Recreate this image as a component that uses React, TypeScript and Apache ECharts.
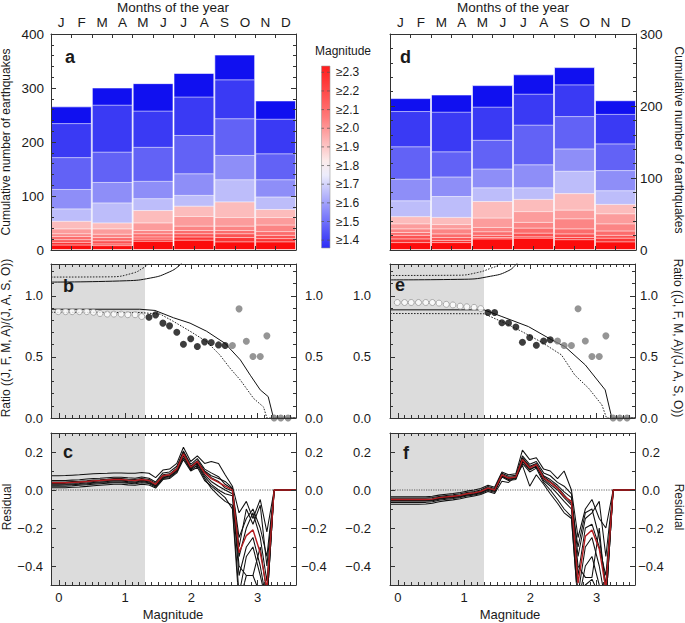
import React, { useEffect, useRef } from 'react';
import * as echarts from 'echarts';

// ---------- categories / labels ----------
const monthNames = ['Jan', 'Feb', 'Mar', 'Apr', 'May', 'Jun', 'Jul', 'Aug', 'Sep', 'Oct', 'Nov', 'Dec'];
const monthInitials = ['J', 'F', 'M', 'A', 'M', 'J', 'J', 'A', 'S', 'O', 'N', 'D'];
const periods = ['Jan–Feb', 'Mar–Apr', 'May–Jun', 'Jul–Aug', 'Sep–Oct', 'Nov–Dec'];
const layerMagnitudes = [1.4, 1.5, 1.6, 1.7, 1.8, 1.9, 2.0, 2.1, 2.2, 2.3, 2.4, 2.5];
const colorbarLabels = ['≥2.3', '≥2.2', '≥2.1', '≥2.0', '≥1.9', '≥1.8', '≥1.7', '≥1.6', '≥1.5', '≥1.4'];
const magTickLabels = [0, 1, 2, 3];
const ratioTickLabels = [0, 0.5, 1.0];
const residualTickLabels = [-0.4, -0.2, 0, 0.2];

// ---------- panel a: cumulative counts (one value per magnitude threshold) ----------
const aJF = [266, 235, 172, 113, 77, 54, 40, 31, 26, 20, 15, 10];
const aMA = [301, 269, 182, 126, 88, 51, 40, 30, 24, 18, 12, 9];
const aMJ = [309, 258, 191, 128, 96, 74, 51, 37, 31, 25, 21, 17];
const aJA = [328, 284, 213, 142, 102, 82, 63, 45, 37, 31, 25, 19];
const aSO = [362, 316, 244, 176, 131, 90, 61, 45, 37, 31, 24, 16];
const aND = [277, 243, 179, 131, 99, 76, 61, 47, 35, 28, 22, 16];

// ---------- panel d ----------
const dJF = [211, 193, 144, 99, 69, 47, 37, 30, 25, 21, 16, 11];
const dMA = [216, 192, 137, 102, 75, 46, 36, 30, 23, 18, 14, 11];
const dMJ = [229, 199, 153, 113, 87, 68, 45, 32, 26, 21, 18, 16];
const dJA = [244, 217, 174, 119, 87, 71, 54, 39, 31, 24, 19, 17];
const dSO = [254, 230, 186, 141, 110, 79, 56, 44, 30, 23, 18, 15];
const dND = [208, 189, 148, 111, 83, 64, 51, 37, 27, 21, 17, 12];

// ---------- magnitude bins (x of points / residual curves) ----------
const magX = [-0.01, 0.10, 0.20, 0.31, 0.42, 0.52, 0.62, 0.73, 0.83, 0.94, 1.04, 1.15, 1.25,
  1.36, 1.46, 1.57, 1.67, 1.78, 1.88, 1.99, 2.09, 2.20, 2.30, 2.41, 2.51, 2.62, 2.72, 2.83,
  2.93, 3.04, 3.14, 3.25, 3.35, 3.46];
const shadeMax = 1.3;

// ---------- panel b ratios ----------
const bOpen = [0.87, 0.87, 0.87, 0.87, 0.87, 0.865, 0.855, 0.85, 0.85, 0.85, 0.845, 0.845, 0.83];
const bFilled = [0.825, 0.844, 0.776, 0.754, 0.702, 0.604, 0.648, 0.585, 0.623, 0.617, 0.598, 0.593];
const bGrey = [0.593, 0.893, 0.628, 0.503, 0.503, 0.672, 0, 0, 0];
const bLowSolidX = [-0.12, 1.22, 1.45, 1.73, 1.98, 2.23, 2.51, 2.74, 2.89, 3.04, 3.16, 3.24, 3.58];
const bLowSolidY = [0.89, 0.89, 0.88, 0.82, 0.776, 0.71, 0.61, 0.475, 0.35, 0.23, 0.175, 0, 0];
const bLowDotX = [-0.12, 1.22, 1.53, 1.73, 1.98, 2.23, 2.43, 2.58, 2.74, 2.94, 3.09, 3.14, 3.58];
const bLowDotY = [0.865, 0.863, 0.85, 0.79, 0.71, 0.625, 0.516, 0.41, 0.31, 0.16, 0.09, 0, 0];
const bUpSolidX = [-0.12, 1.02, 1.38, 1.63, 1.83, 1.95];
const bUpSolidY = [1.112, 1.123, 1.145, 1.186, 1.254, 1.34];
const bUpDotX = [-0.12, 0.77, 1.12, 1.27, 1.35, 1.45];
const bUpDotY = [1.153, 1.155, 1.186, 1.227, 1.26, 1.34];

// ---------- panel e ratios ----------
const eOpen = [0.945, 0.945, 0.945, 0.945, 0.945, 0.945, 0.94, 0.93, 0.925, 0.915, 0.91, 0.905, 0.895];
const eFilled = [0.863, 0.863, 0.78, 0.777, 0.744, 0.62, 0.658, 0.595, 0.63, 0.64];
const eGrey = [0.63, 0.593, 0.593, 0.894, 0.63, 0.503, 0.503, 0.672, 0, 0, 0];
const eLowSolidX = [-0.12, 1.30, 1.57, 1.97, 2.32, 2.52, 2.83, 3.13, 3.23, 3.58];
const eLowSolidY = [0.885, 0.885, 0.83, 0.748, 0.64, 0.585, 0.434, 0.23, 0, 0];
const eLowDotX = [-0.12, 1.30, 1.62, 1.87, 2.17, 2.47, 2.67, 2.88, 3.08, 3.15, 3.58];
const eLowDotY = [0.855, 0.853, 0.776, 0.708, 0.62, 0.516, 0.352, 0.243, 0.107, 0, 0];
const eUpSolidX = [-0.12, 1.0, 1.4, 1.65, 1.79, 1.9];
const eUpSolidY = [1.13, 1.135, 1.16, 1.2, 1.26, 1.34];
const eUpDotX = [-0.12, 0.9, 1.2, 1.4, 1.54, 1.62];
const eUpDotY = [1.166, 1.168, 1.19, 1.225, 1.26, 1.32];

// ---------- panel c residuals ----------
const cMean = [0.038, 0.038, 0.040, 0.042, 0.045, 0.048, 0.050, 0.053, 0.055, 0.055, 0.052, 0.050, 0.055, 0.050, 0.030, 0.075, 0.080, 0.110, 0.190, 0.120, 0.150, 0.090, 0.060, 0.040, 0.020, 0.000, -0.330, -0.240, -0.210, -0.330, -0.520, 0, 0, 0];
const cRes1 = [0.075, 0.076, 0.078, 0.080, 0.083, 0.085, 0.087, 0.088, 0.090, 0.090, 0.088, 0.088, 0.092, 0.088, 0.065, 0.105, 0.110, 0.140, 0.225, 0.150, 0.180, 0.140, 0.150, 0.140, 0.080, 0.020, -0.120, -0.060, -0.150, -0.050, -0.220, 0, 0, 0];
const cRes2 = [0.050, 0.050, 0.052, 0.054, 0.058, 0.060, 0.062, 0.065, 0.067, 0.067, 0.064, 0.062, 0.068, 0.062, 0.042, 0.090, 0.095, 0.125, 0.205, 0.135, 0.165, 0.110, 0.090, 0.070, 0.030, 0.005, -0.250, -0.150, -0.100, -0.200, -0.350, 0, 0, 0];
const cRes3 = [0.030, 0.030, 0.032, 0.034, 0.037, 0.040, 0.042, 0.045, 0.047, 0.047, 0.044, 0.042, 0.047, 0.043, 0.022, 0.068, 0.072, 0.100, 0.180, 0.110, 0.140, 0.070, 0.030, 0.000, -0.020, -0.030, -0.450, -0.300, -0.250, -0.400, -0.600, 0, 0, 0];
const cRes4 = [0.020, 0.020, 0.022, 0.025, 0.028, 0.030, 0.033, 0.036, 0.038, 0.038, 0.035, 0.033, 0.038, 0.034, 0.015, 0.060, 0.065, 0.095, 0.170, 0.105, 0.130, 0.060, 0.010, -0.030, -0.060, -0.080, -0.550, -0.350, -0.300, -0.450, -0.600, 0, 0, 0];
const cRes5 = [0.012, 0.012, 0.014, 0.016, 0.019, 0.022, 0.025, 0.028, 0.030, 0.030, 0.027, 0.025, 0.030, 0.026, 0.010, 0.055, 0.060, 0.090, 0.160, 0.100, 0.120, 0.050, 0.020, -0.010, -0.040, -0.100, -0.600, -0.450, -0.450, -0.550, -0.600, 0, 0, 0];
const cRes6 = [0.042, 0.042, 0.044, 0.046, 0.049, 0.052, 0.054, 0.057, 0.060, 0.060, 0.057, 0.055, 0.060, 0.055, 0.035, 0.080, 0.085, 0.115, 0.195, 0.125, 0.155, 0.100, 0.075, 0.060, 0.045, 0.010, -0.300, -0.100, -0.180, -0.080, -0.400, 0, 0, 0];
const cRes7 = [0.025, 0.026, 0.028, 0.030, 0.033, 0.036, 0.038, 0.040, 0.042, 0.042, 0.040, 0.038, 0.043, 0.038, 0.020, 0.065, 0.070, 0.105, 0.185, 0.115, 0.145, 0.080, 0.045, 0.020, 0.000, -0.020, -0.400, -0.450, -0.450, -0.300, -0.550, 0, 0, 0];
const cRes8 = [0.035, 0.035, 0.037, 0.039, 0.042, 0.045, 0.047, 0.050, 0.052, 0.052, 0.049, 0.047, 0.052, 0.047, 0.028, 0.072, 0.078, 0.108, 0.200, 0.118, 0.150, 0.095, 0.065, 0.045, 0.010, -0.005, -0.350, -0.200, -0.120, -0.250, -0.480, 0, 0, 0];

// ---------- panel f residuals ----------
const fMean = [-0.050, -0.050, -0.050, -0.050, -0.050, -0.048, -0.040, -0.036, -0.033, -0.028, -0.020, -0.015, -0.007, 0.010, 0.000, 0.080, 0.063, 0.068, 0.160, 0.116, 0.133, 0.063, 0.040, 0.010, -0.033, -0.060, -0.490, -0.244, -0.210, -0.310, -0.520, 0, 0, 0];
const fRes1 = [-0.035, -0.035, -0.035, -0.035, -0.035, -0.033, -0.027, -0.022, -0.018, -0.013, -0.006, 0.000, 0.008, 0.025, 0.015, 0.095, 0.080, 0.085, 0.210, 0.160, 0.170, 0.110, 0.100, 0.060, 0.100, 0.000, -0.250, -0.100, -0.050, -0.150, -0.200, 0, 0, 0];
const fRes2 = [-0.042, -0.042, -0.042, -0.042, -0.042, -0.040, -0.034, -0.029, -0.025, -0.020, -0.013, -0.008, 0.000, 0.018, 0.008, 0.088, 0.072, 0.077, 0.180, 0.135, 0.150, 0.090, 0.075, 0.040, 0.020, -0.020, -0.350, -0.150, -0.120, -0.060, -0.350, 0, 0, 0];
const fRes3 = [-0.055, -0.055, -0.055, -0.055, -0.055, -0.053, -0.045, -0.041, -0.038, -0.033, -0.025, -0.020, -0.012, 0.005, -0.005, 0.075, 0.058, 0.063, 0.150, 0.105, 0.125, 0.050, 0.020, -0.020, -0.060, -0.100, -0.550, -0.300, -0.250, -0.400, -0.600, 0, 0, 0];
const fRes4 = [-0.065, -0.065, -0.065, -0.065, -0.065, -0.062, -0.054, -0.049, -0.045, -0.040, -0.032, -0.026, -0.018, -0.002, -0.012, 0.068, 0.050, 0.055, 0.140, 0.095, 0.115, 0.040, 0.000, -0.050, -0.100, -0.140, -0.600, -0.400, -0.350, -0.500, -0.600, 0, 0, 0];
const fRes5 = [-0.075, -0.075, -0.075, -0.075, -0.074, -0.070, -0.062, -0.056, -0.052, -0.046, -0.038, -0.032, -0.024, -0.008, -0.018, 0.046, 0.040, 0.070, 0.130, 0.020, 0.080, 0.030, -0.020, -0.070, -0.120, -0.150, -0.600, -0.500, -0.470, -0.550, -0.600, 0, 0, 0];
const fRes6 = [-0.048, -0.048, -0.048, -0.048, -0.048, -0.046, -0.038, -0.034, -0.031, -0.026, -0.018, -0.013, -0.005, 0.012, 0.002, 0.082, 0.066, 0.071, 0.170, 0.125, 0.140, 0.075, 0.055, 0.025, -0.010, -0.040, -0.450, -0.200, -0.180, -0.300, -0.450, 0, 0, 0];
const fRes7 = [-0.058, -0.058, -0.058, -0.058, -0.058, -0.056, -0.048, -0.043, -0.040, -0.035, -0.027, -0.022, -0.014, 0.003, -0.007, 0.072, 0.055, 0.060, 0.155, 0.110, 0.125, 0.060, 0.030, 0.000, -0.040, -0.080, -0.400, -0.460, -0.460, -0.200, -0.550, 0, 0, 0];
const fRes8 = [-0.052, -0.052, -0.052, -0.052, -0.052, -0.050, -0.042, -0.038, -0.035, -0.030, -0.022, -0.017, -0.009, 0.008, -0.002, 0.078, 0.060, 0.066, 0.165, 0.120, 0.135, 0.070, 0.045, 0.015, -0.025, -0.070, -0.300, -0.120, -0.100, -0.250, -0.500, 0, 0, 0];

// ---------- styles ----------
const FONT = '"Liberation Sans", Arial, Helvetica, sans-serif';
const TEXT = '#1a1a1a';
const FRAME = '#333333';
const layerColors = ['#1010f0', '#3a3af4', '#6262f6', '#8e8ef8', '#bdbdfa', '#fcbcbc', '#fc9c9c', '#fc8585', '#fc6c6c', '#fc5252', '#fc3434', '#fc0c0c'];
const xMin = -0.12;
const xMax = 3.58;

function pairs(xs: number[], ys: number[]) {
  return xs.map((x, i) => [x, ys[i]]);
}
function resLine(ys: number[]) {
  return [[xMin, ys[0]], ...pairs(magX, ys), [xMax, ys[ys.length - 1]]];
}
function minorValues(from: number, to: number, step: number, skipEvery: number) {
  const out: number[] = [];
  const n = Math.round((to - from) / step);
  for (let k = 0; k <= n; k++) {
    if (k % skipEvery !== 0) out.push(+(from + k * step).toFixed(3));
  }
  return out;
}

function buildOption() {
  const grids = [
    { left: 51, top: 34, width: 245, height: 216 },
    { left: 390, top: 34, width: 246, height: 216 },
    { left: 51, top: 264, width: 245, height: 154 },
    { left: 390, top: 264, width: 245, height: 154 },
    { left: 51, top: 433, width: 245, height: 152 },
    { left: 390, top: 433, width: 245, height: 152 },
  ];
  const xAxis: any[] = [];
  const yAxis: any[] = [];
  const series: any[] = [];
  const ls = { color: FRAME, width: 1 };
  const lab = { fontFamily: FONT, fontSize: 13, color: TEXT };

  // ---- top panels (bars) ----
  const tops = [
    { g: 0, data: [aJF, aMA, aMJ, aJA, aSO, aND], max: 400, left: true },
    { g: 1, data: [dJF, dMA, dMJ, dJA, dSO, dND], max: 300, left: false },
  ];
  tops.forEach((p) => {
    const bx = xAxis.push({ type: 'category', gridIndex: p.g, data: periods, show: false }) - 1;
    ['top', 'bottom'].forEach((pos) => {
      xAxis.push({
        type: 'category', gridIndex: p.g, position: pos, data: monthNames, boundaryGap: true, z: 10,
        axisLine: { show: true, onZero: false, lineStyle: ls },
        axisTick: { show: true, inside: true, length: 4, interval: 0, lineStyle: ls },
        axisLabel: { ...lab, fontSize: 13.5, show: pos === 'top', interval: 0, margin: 5, formatter: (_v: string, i: number) => monthInitials[i] },
        splitLine: { show: false },
      });
    });
    let yl = -1;
    ['left', 'right'].forEach((pos) => {
      const idx = yAxis.push({
        type: 'value', gridIndex: p.g, position: pos, min: 0, max: p.max, interval: 100, z: 10,
        axisLine: { show: true, onZero: false, lineStyle: ls },
        axisTick: { show: true, inside: true, length: 5, lineStyle: ls },
        minorTick: { show: true, splitNumber: 5, length: 3, lineStyle: ls },
        splitLine: { show: false }, minorSplitLine: { show: false },
        axisLabel: { ...lab, fontSize: 13.5, show: pos === 'left' ? p.left : !p.left, margin: pos === 'left' ? 7 : 4 },
      }) - 1;
      if (pos === 'left') yl = idx;
    });
    layerMagnitudes.forEach((m, i) => {
      series.push({
        type: 'bar', name: '≥' + m.toFixed(1), xAxisIndex: bx, yAxisIndex: yl, silent: true,
        data: p.data.map((arr) => arr[i]), barWidth: '100%', barGap: '-100%',
        itemStyle: { color: layerColors[i], borderColor: 'rgba(255,255,255,0.6)', borderWidth: 1 },
      });
    });
  });

  // ---- magnitude panels ----
  const magMinor = minorValues(0, 3.5, 0.1, 10);
  function addMagX(g: number, labels: boolean) {
    let main = -1;
    ['bottom', 'top'].forEach((pos) => {
      const i = xAxis.push({
        type: 'value', gridIndex: g, position: pos, min: xMin, max: xMax, z: 10,
        axisLine: { show: true, onZero: false, lineStyle: ls },
        axisTick: { show: true, inside: true, length: 5, lineStyle: ls, customValues: magTickLabels },
        axisLabel: { ...lab, show: labels && pos === 'bottom', margin: 6, customValues: magTickLabels },
        splitLine: { show: false },
      }) - 1;
      if (pos === 'bottom') main = i;
      xAxis.push({
        type: 'value', gridIndex: g, position: pos, min: xMin, max: xMax, z: 10,
        axisLine: { show: false, onZero: false },
        axisTick: { show: true, inside: true, length: 3, lineStyle: ls, customValues: magMinor },
        axisLabel: { show: false, customValues: magMinor },
        splitLine: { show: false },
      });
    });
    return main;
  }
  function addY(g: number, min: number, max: number, major: number[], minor: number[],
    fmt: (v: number) => string, leftMargin: number, rightMargin: number) {
    let main = -1;
    ['left', 'right'].forEach((pos) => {
      const i = yAxis.push({
        type: 'value', gridIndex: g, position: pos, min, max, z: 10,
        axisLine: { show: true, onZero: false, lineStyle: ls },
        axisTick: { show: true, inside: true, length: 5, lineStyle: ls, customValues: major },
        axisLabel: {
          ...lab, show: true, customValues: major, formatter: fmt,
          margin: pos === 'left' ? leftMargin : rightMargin, align: pos === 'left' ? 'right' : 'center',
        },
        splitLine: { show: false },
      }) - 1;
      if (pos === 'left') main = i;
      yAxis.push({
        type: 'value', gridIndex: g, position: pos, min, max, z: 10,
        axisLine: { show: false, onZero: false },
        axisTick: { show: true, inside: true, length: 3, lineStyle: ls, customValues: minor },
        axisLabel: { show: false, customValues: minor },
        splitLine: { show: false },
      });
    });
    return main;
  }
  const fmtRatio = (v: number) => v.toFixed(1);
  const fmtRes = (v: number) => (v < -1e-9 ? '−' + Math.abs(v).toFixed(1) : Math.abs(v).toFixed(1));
  const ratioMinor = [0.1, 0.2, 0.3, 0.4, 0.6, 0.7, 0.8, 0.9, 1.1, 1.2];
  const resMinor = [-0.3, -0.1, 0.1];

  const shade = (xi: number, yi: number, y: number) => ({
    type: 'line', xAxisIndex: xi, yAxisIndex: yi, silent: true, symbol: 'none', z: 1,
    data: [[xMin, y], [shadeMax, y]], lineStyle: { opacity: 0 },
    markArea: { silent: true, itemStyle: { color: '#dcdcdc' }, data: [[{ xAxis: xMin }, { xAxis: shadeMax }]] },
  });
  const curve = (xi: number, yi: number, data: number[][], dotted: boolean, smooth = false) => ({
    type: 'line', xAxisIndex: xi, yAxisIndex: yi, silent: true, symbol: 'none', z: 3, smooth,
    data, lineStyle: dotted ? { color: '#111', width: 0.9, type: [1.6, 1.4] } : { color: '#111', width: 1 },
  });
  const pts = (xi: number, yi: number, data: number[][], kind: string) => ({
    type: 'scatter', xAxisIndex: xi, yAxisIndex: yi, silent: true, z: 4,
    symbol: 'circle', symbolSize: kind === 'open' ? 6 : 7, data,
    itemStyle: kind === 'open' ? { color: '#ffffff', borderColor: '#9a9a9a', borderWidth: 1 }
      : kind === 'filled' ? { color: '#0d0d0d' } : { color: '#7a7a7a' },
  });

  const ratioPanels = [
    { g: 2, open: bOpen, filled: bFilled, grey: bGrey, ls: [bLowSolidX, bLowSolidY], ld: [bLowDotX, bLowDotY], us: [bUpSolidX, bUpSolidY], ud: [bUpDotX, bUpDotY], lm: 8, rm: 18 },
    { g: 3, open: eOpen, filled: eFilled, grey: eGrey, ls: [eLowSolidX, eLowSolidY], ld: [eLowDotX, eLowDotY], us: [eUpSolidX, eUpSolidY], ud: [eUpDotX, eUpDotY], lm: 19, rm: 14 },
  ];
  ratioPanels.forEach((p) => {
    const xi = addMagX(p.g, false);
    const yi = addY(p.g, 0, 1.26, ratioTickLabels, ratioMinor, fmtRatio, p.lm, p.rm);
    series.push(shade(xi, yi, 0.5));
    series.push(curve(xi, yi, pairs(p.ls[0], p.ls[1]), false));
    series.push(curve(xi, yi, pairs(p.ld[0], p.ld[1]), true));
    series.push(curve(xi, yi, pairs(p.us[0], p.us[1]), false, true));
    series.push(curve(xi, yi, pairs(p.ud[0], p.ud[1]), true, true));
    const n1 = p.open.length;
    const n2 = n1 + p.filled.length;
    series.push(pts(xi, yi, pairs(magX.slice(0, n1), p.open), 'open'));
    series.push(pts(xi, yi, pairs(magX.slice(n1, n2), p.filled), 'filled'));
    series.push(pts(xi, yi, pairs(magX.slice(n2), p.grey), 'grey'));
  });

  const resPanels = [
    { g: 4, mean: cMean, lines: [cRes1, cRes2, cRes3, cRes4, cRes5, cRes6, cRes7, cRes8], lm: 8, rm: 18 },
    { g: 5, mean: fMean, lines: [fRes1, fRes2, fRes3, fRes4, fRes5, fRes6, fRes7, fRes8], lm: 19, rm: 16 },
  ];
  resPanels.forEach((p) => {
    const xi = addMagX(p.g, true);
    const yi = addY(p.g, -0.5, 0.3, residualTickLabels, resMinor, fmtRes, p.lm, p.rm);
    series.push(shade(xi, yi, 0));
    series.push({
      type: 'line', xAxisIndex: xi, yAxisIndex: yi, silent: true, symbol: 'none', z: 2,
      data: [[xMin, 0], [xMax, 0]], lineStyle: { color: '#222', width: 0.7, type: [1.2, 1.2] },
    });
    p.lines.forEach((l) => {
      series.push({
        type: 'line', xAxisIndex: xi, yAxisIndex: yi, silent: true, symbol: 'none', z: 3,
        data: resLine(l), lineStyle: { color: '#111', width: 1.05 },
      });
    });
    series.push({
      type: 'line', xAxisIndex: xi, yAxisIndex: yi, silent: true, symbol: 'none', z: 4,
      data: resLine(p.mean), lineStyle: { color: '#b41c20', width: 1.4 },
    });
  });

  // ---- texts & colorbar ----
  const txt = (x: number, y: number, text: string, size: number, opts: any = {}) => ({
    type: 'text', x, y, rotation: opts.rotation || 0, silent: true, z: 20,
    style: {
      text, fill: TEXT, font: `${opts.bold ? 'bold ' : ''}${size}px ${FONT}`,
      align: opts.align || 'center', verticalAlign: 'middle',
      textAlign: opts.align || 'center', textVerticalAlign: 'middle',
    },
  });
  const graphic: any[] = [
    txt(173, 7, 'Months of the year', 13.5),
    txt(513, 7, 'Months of the year', 13.5),
    txt(6, 142, 'Cumulative number of earthquakes', 12, { rotation: Math.PI / 2 }),
    txt(679, 140, 'Cumulative number of earthquakes', 12, { rotation: -Math.PI / 2 }),
    txt(6, 338, 'Ratio ((J, F, M, A)/(J, A, S, O))', 12, { rotation: Math.PI / 2 }),
    txt(678, 338, 'Ratio ((J, F, M, A)/(J, A, S, O))', 12, { rotation: -Math.PI / 2 }),
    txt(7, 507, 'Residual', 12, { rotation: Math.PI / 2 }),
    txt(679, 507, 'Residual', 12, { rotation: -Math.PI / 2 }),
    txt(173, 614, 'Magnitude', 13),
    txt(510, 614, 'Magnitude', 13),
    txt(65, 57, 'a', 18, { bold: true, align: 'left' }),
    txt(63, 286, 'b', 18, { bold: true, align: 'left' }),
    txt(63, 452, 'c', 18, { bold: true, align: 'left' }),
    txt(400, 57, 'd', 18, { bold: true, align: 'left' }),
    txt(395, 285, 'e', 18, { bold: true, align: 'left' }),
    txt(403, 453, 'f', 18, { bold: true, align: 'left' }),
    txt(343, 51, 'Magnitude', 12),
    {
      type: 'rect', silent: true, z: 20,
      shape: { x: 321.5, y: 66, width: 8.5, height: 182 },
      style: {
        fill: new echarts.graphic.LinearGradient(0, 0, 0, 1, [
          { offset: 0, color: '#ff1c1c' },
          { offset: 0.28, color: '#ff7a7a' },
          { offset: 0.52, color: '#fbeaea' },
          { offset: 0.6, color: '#ececfb' },
          { offset: 0.82, color: '#8080fb' },
          { offset: 1, color: '#2c2cf6' },
        ]),
        stroke: '#9a9a9a', lineWidth: 0.6,
      },
    },
  ];
  colorbarLabels.forEach((t, i) => {
    const y = 72.3 + i * 18.65;
    graphic.push(txt(336, y, t, 12, { align: 'left' }));
    graphic.push({ type: 'line', silent: true, z: 21, shape: { x1: 327, y1: y, x2: 330, y2: y }, style: { stroke: '#555', lineWidth: 0.7 } });
    graphic.push({ type: 'line', silent: true, z: 21, shape: { x1: 321.5, y1: y, x2: 324, y2: y }, style: { stroke: '#555', lineWidth: 0.7 } });
  });

  return { animation: false, backgroundColor: '#ffffff', grid: grids, xAxis, yAxis, series, graphic };
}

export default function App() {
  const ref = useRef<HTMLDivElement>(null);
  useEffect(() => {
    const chart = echarts.init(ref.current!, null, { renderer: 'svg' });
    chart.setOption(buildOption() as any);
    return () => chart.dispose();
  }, []);
  return <div ref={ref} style={{ position: 'fixed', left: 0, top: 0, width: 685, height: 623, background: '#fff' }} />;
}
